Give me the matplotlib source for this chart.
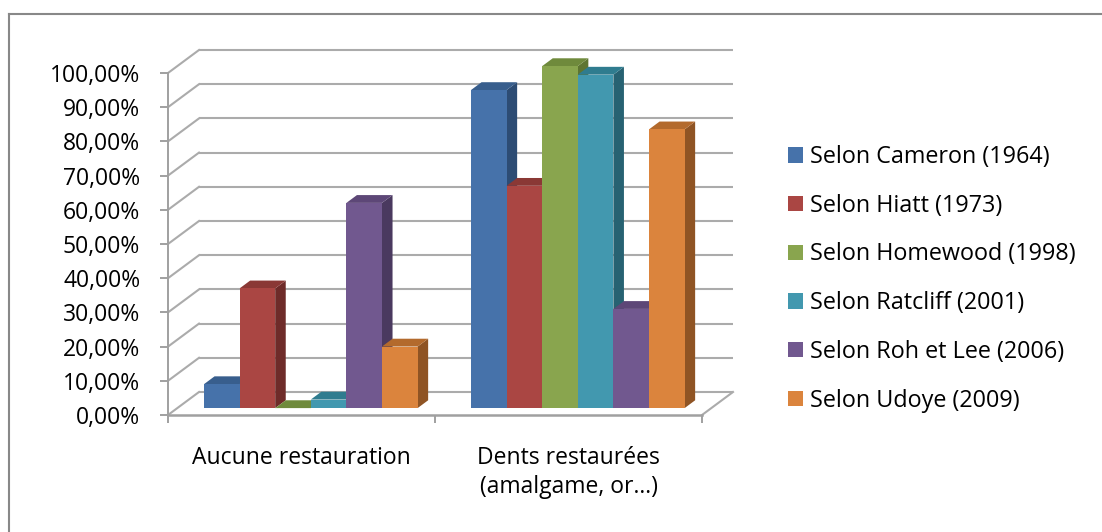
import matplotlib
matplotlib.use("Agg")
import matplotlib.pyplot as plt
from matplotlib.patches import Polygon, Patch
from matplotlib.lines import Line2D

# ---- data -------------------------------------------------------------
categories = ["Aucune restauration", "Dents restaurées\n(amalgame, or…)"]
series_names = [
    "Selon Cameron (1964)",
    "Selon Hiatt (1973)",
    "Selon Homewood (1998)",
    "Selon Ratcliff (2001)",
    "Selon Roh et Lee (2006)",
    "Selon Udoye (2009)",
]
cameron = [7.0, 93.0]
hiatt = [35.0, 65.0]
homewood = [0.0, 100.0]
ratcliff = [2.5, 97.5]
roh_lee = [60.0, 29.0]
udoye = [18.0, 81.5]
series_values = [cameron, hiatt, homewood, ratcliff, roh_lee, udoye]
y_ticks = [0, 10, 20, 30, 40, 50, 60, 70, 80, 90, 100]

# face colours: front, side (shaded), top
front_colors = ["#4672AA", "#AA4643", "#89A54E", "#4298AF", "#71588F", "#DB843D"]
side_colors = ["#2D4C74", "#6E2B29", "#5E7531", "#276272", "#4A395F", "#8F5424"]
top_colors = ["#385E8D", "#8A3835", "#6F8A3C", "#2F7C8F", "#5D4777", "#B36A2D"]

plt.rcParams["font.family"] = ["Open Sans", "DejaVu Sans"]
FS = 16.5

W, H = 1102, 532
fig = plt.figure(figsize=(W / 100, H / 100), dpi=100)
fig.patch.set_facecolor("white")

# front plane of the 3-D box in pixel terms
x0_px, x1_px = 168, 702
y0_px, y1_px = 415, 73
ax = fig.add_axes([x0_px / W, 1 - y0_px / H, (x1_px - x0_px) / W, (y0_px - y1_px) / H])
ax.set_xlim(0, 2)
ax.set_ylim(0, 100)
ax.set_facecolor("none")

# oblique depth offset of the back wall (in data units)
DX = 31 / ((x1_px - x0_px) / 2)
DY = 23 / ((y0_px - y1_px) / 100)

grid_col = "#ABABAB"
grid_lw = 1.5

# back wall gridlines + side-wall diagonals
for t in y_ticks:
    ax.plot([DX, 2 + DX], [t + DY, t + DY], color=grid_col, lw=grid_lw,
            clip_on=False, zorder=1, solid_capstyle="butt")
    ax.plot([0, DX], [t, t + DY], color=grid_col, lw=grid_lw,
            clip_on=False, zorder=1)
# floor right edge
ax.plot([2, 2 + DX], [0, DY], color=grid_col, lw=grid_lw, clip_on=False, zorder=1)

# bars
n = len(series_values)
group_w = 0.8
bw = group_w / n
d0, d1 = 0.30, 0.64
bx = d0 * DX
by = d0 * DY
ddx = (d1 - d0) * DX
ddy = (d1 - d0) * DY

for i, vals in enumerate(series_values):
    xs = [c + 0.5 - group_w / 2 + i * bw + bx for c in range(len(categories))]
    z = 3 + 3 * i
    for x, v in zip(xs, vals):
        top = by + v
        side = Polygon([(x + bw, by), (x + bw + ddx, by + ddy),
                        (x + bw + ddx, top + ddy), (x + bw, top)],
                       closed=True, facecolor=side_colors[i], edgecolor="none",
                       zorder=z, clip_on=False)
        topf = Polygon([(x, top), (x + bw, top), (x + bw + ddx, top + ddy),
                        (x + ddx, top + ddy)],
                       closed=True, facecolor=top_colors[i], edgecolor="none",
                       zorder=z + 1, clip_on=False)
        ax.add_patch(side)
        ax.add_patch(topf)
    ax.bar(xs, vals, width=bw, bottom=by, align="edge", color=front_colors[i],
           edgecolor="none", zorder=z + 2, clip_on=False)

# axes styling
for s in ["top", "right"]:
    ax.spines[s].set_visible(False)
ax.spines["left"].set_color("#A0A0A0")
ax.spines["left"].set_linewidth(1.4)
ax.spines["bottom"].set_color("#A0A0A0")
ax.spines["bottom"].set_linewidth(1.8)
ax.spines["left"].set_zorder(2)
ax.spines["bottom"].set_zorder(2)

ax.set_yticks(y_ticks)
ax.set_yticklabels([f"{t:.2f}".replace(".", ",") + "%" for t in y_ticks], fontsize=FS)
ax.tick_params(axis="y", direction="out", length=6, width=1.4, color="#A0A0A0",
               pad=14, labelcolor="black")

ax.set_xticks([0, 1, 2])
ax.set_xticklabels(["", "", ""])
ax.tick_params(axis="x", which="major", direction="out", length=6, width=1.4,
               color="#A0A0A0")
ax.set_xticks([0.5, 1.5], minor=True)
ax.set_xticklabels(categories, minor=True, fontsize=FS, linespacing=1.28)
ax.tick_params(axis="x", which="minor", length=0, pad=22.5, labelcolor="black")

# legend
handles = [Patch(facecolor=c, edgecolor="none") for c in front_colors]
leg = fig.legend(handles, series_names, loc="upper left",
                 bbox_to_anchor=(788 / W, 1 - 145 / H), frameon=False,
                 fontsize=16.8, handlelength=0.64, handleheight=0.64,
                 handletextpad=0.3, labelspacing=1.06, borderpad=0,
                 borderaxespad=0)

# outer frame (top and left edges)
fig.add_artist(Line2D([9 / W, 9 / W], [0, 1 - 14 / H], color="#888888", lw=1.5))
fig.add_artist(Line2D([9 / W, 1], [1 - 14 / H, 1 - 14 / H], color="#888888", lw=1.5))

fig.savefig("out.png", dpi=100)
